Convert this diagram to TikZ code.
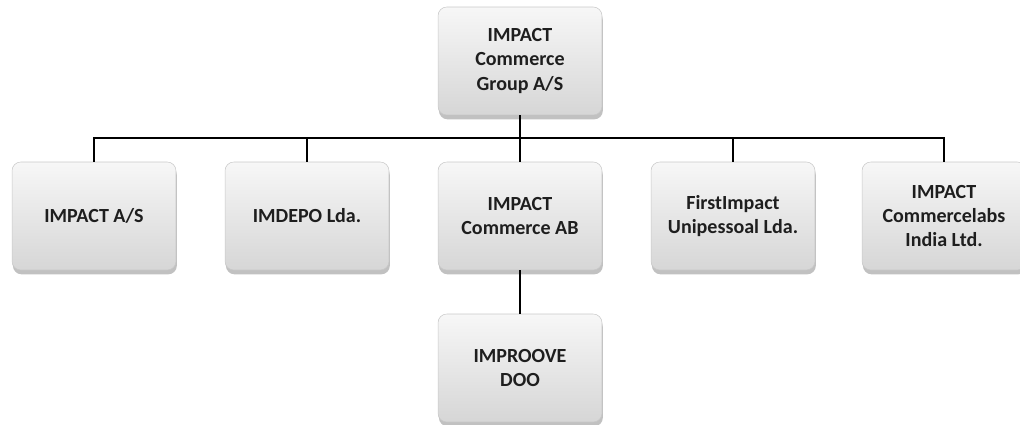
\documentclass[tikz,border=0pt]{standalone}
\usepackage{fontspec}
\setmainfont{Carlito}
\usepackage{tikz}
\usetikzlibrary{shadows}
\definecolor{orgtop}{RGB}{247,247,247}
\definecolor{orgbot}{RGB}{214,214,214}
\definecolor{orgedge}{RGB}{200,200,200}
\definecolor{orgtext}{RGB}{30,30,30}

\begin{document}
\begin{tikzpicture}[x=0.02cm,y=-0.02cm,
  orgbox/.style={rectangle,rounded corners=5pt,draw=orgedge,line width=0.3pt,
    top color=orgtop,bottom color=orgbot,
    drop shadow={shadow xshift=0.5pt,shadow yshift=-2.5pt,opacity=0.35,fill=black!70},
    minimum width=3.28cm,minimum height=2.16cm,align=center,text=orgtext,
    font=\fontsize{11.4}{13.8}\selectfont\bfseries},
  orgline/.style={black,line width=0.8pt}]
  \useasboundingbox (0,0) rectangle (1020,425);
  \node[orgbox] (group) at (520,61) {IMPACT\\Commerce\\Group A/S};
  \node[orgbox] (as) at (94,216) {IMPACT A/S};
  \node[orgbox] (imdepo) at (307,216) {IMDEPO Lda.};
  \node[orgbox] (ab) at (520,216) {IMPACT\\Commerce AB};
  \node[orgbox] (first) at (733,216) {FirstImpact\\Unipessoal Lda.};
  \node[orgbox] (india) at (944,216) {IMPACT\\Commercelabs\\India Ltd.};
  \node[orgbox] (doo) at (520,368) {IMPROOVE\\DOO};
  \coordinate (bus) at (520,138);
  \draw[orgline] (group.south) -- (bus);
  \foreach \n in {as,imdepo,ab,first,india}
    \draw[orgline] (bus) -| (\n.north);
  \draw[orgline] (ab.south) -- (doo.north);
\end{tikzpicture}
\end{document}
